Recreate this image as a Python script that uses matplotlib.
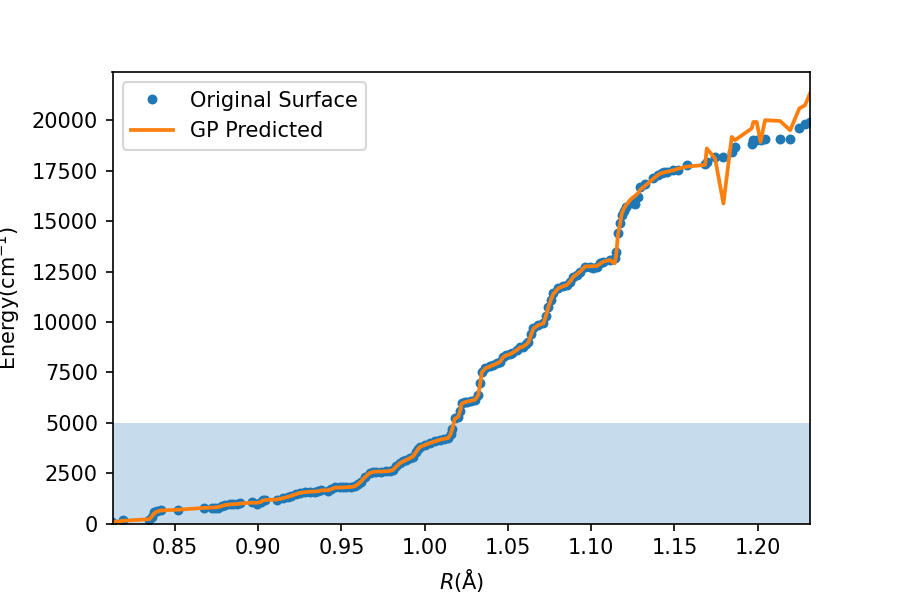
import numpy as np
import matplotlib
matplotlib.use('Agg')
import matplotlib.pyplot as plt

# bond length R (Angstrom)
R = [0.8125, 0.8190, 0.8346, 0.8360, 0.8375, 0.8395, 0.8415, 0.8520, 0.8677, 0.8720,
     0.8740, 0.8760, 0.8780, 0.8800, 0.8830, 0.8850, 0.8870, 0.8890, 0.8960, 0.8990,
     0.9015, 0.9027, 0.9040, 0.9110, 0.9150, 0.9180, 0.9200, 0.9230, 0.9250, 0.9280,
     0.9310, 0.9340, 0.9360, 0.9380, 0.9420, 0.9440, 0.9460, 0.9490, 0.9510, 0.9530,
     0.9560, 0.9580, 0.9600, 0.9615, 0.9640, 0.9670, 0.9690, 0.9710, 0.9740, 0.9770,
     0.9790, 0.9810, 0.9830, 0.9850, 0.9870, 0.9890, 0.9910, 0.9930, 0.9945, 0.9960,
     0.9972, 1.0000, 1.0030, 1.0060, 1.0090, 1.0115, 1.0140, 1.0155, 1.0165, 1.0180,
     1.0202, 1.0212, 1.0222, 1.0240, 1.0253, 1.0280, 1.0302, 1.0322, 1.0333, 1.0343,
     1.0363, 1.0390, 1.0412, 1.0435, 1.0453, 1.0472, 1.0490, 1.0510, 1.0523, 1.0553,
     1.0573, 1.0592, 1.0610, 1.0623, 1.0640, 1.0653, 1.0683, 1.0713, 1.0728, 1.0743,
     1.0758, 1.0773, 1.0803, 1.0830, 1.0853, 1.0873, 1.0893, 1.0913, 1.0933, 1.0963,
     1.0993, 1.1013, 1.1033, 1.1053, 1.1073, 1.1113, 1.1140, 1.1150, 1.1160, 1.1173,
     1.1183, 1.1195, 1.1210, 1.1240, 1.1264, 1.1283, 1.1293, 1.1324, 1.1373, 1.1403,
     1.1423, 1.1440, 1.1454, 1.1494, 1.1524, 1.1574, 1.1684, 1.1694, 1.1744, 1.1794,
     1.1844, 1.1864, 1.1964, 1.1974, 1.1994, 1.2017, 1.2044, 1.2134, 1.2195, 1.2250,
     1.2284, 1.2314]

# original surface energies (cm^-1)
energy = [80, 200, 180, 350, 560, 640, 680, 680, 780, 760,
          760, 800, 900, 950, 990, 980, 990, 1010, 1060, 990,
          1060, 1190, 1200, 1190, 1260, 1350, 1400, 1500, 1550, 1580,
          1600, 1600, 1610, 1680, 1630, 1720, 1800, 1800, 1800, 1810,
          1830, 1850, 1980, 2090, 2300, 2540, 2580, 2590, 2590, 2600,
          2620, 2670, 2850, 3000, 3100, 3170, 3250, 3330, 3550, 3720,
          3830, 3900, 4000, 4080, 4160, 4220, 4240, 4450, 4700, 5230,
          5310, 5600, 5970, 6030, 6050, 6100, 6140, 6390, 7000, 7540,
          7710, 7800, 7870, 7950, 8030, 8280, 8350, 8400, 8450, 8610,
          8750, 8780, 8900, 9000, 9400, 9690, 9850, 9930, 10300, 10760,
          11100, 11420, 11670, 11780, 11830, 12000, 12240, 12350, 12490, 12740,
          12700, 12680, 12740, 12900, 12990, 13070, 13150, 13480, 14390, 14880,
          15300, 15500, 15710, 15900, 15870, 16200, 16700, 16850, 17110, 17280,
          17360, 17420, 17440, 17520, 17520, 17770, 17850, 17950, 18180, 18180,
          18430, 18680, 18840, 19000, 19010, 19010, 19090, 19090, 19090, 19590,
          19830, 19910]

# GP prediction at the same R
gp_pred = [80, 150, 230, 350, 520, 620, 660, 700, 790, 800,
           810, 830, 880, 930, 960, 970, 980, 1000, 1050, 1040,
           1080, 1150, 1180, 1200, 1270, 1340, 1390, 1480, 1530, 1570,
           1590, 1600, 1610, 1660, 1660, 1720, 1790, 1800, 1800, 1810,
           1830, 1860, 1970, 2080, 2300, 2520, 2570, 2590, 2590, 2600,
           2620, 2680, 2840, 3000, 3090, 3170, 3250, 3340, 3520, 3700,
           3810, 3900, 4000, 4080, 4160, 4210, 4250, 4430, 4680, 5200,
           5310, 5580, 5950, 6020, 6050, 6100, 6150, 6380, 6950, 7500,
           7700, 7790, 7870, 7950, 8030, 8270, 8350, 8400, 8450, 8610,
           8740, 8780, 8890, 9000, 9380, 9680, 9850, 9930, 10300, 10740,
           11100, 11400, 11670, 11770, 11830, 12000, 12240, 12360, 12490, 12750,
           12760, 12760, 12770, 12880, 12990, 13070, 12900, 13300, 14300, 14850,
           15350, 15600, 15800, 16100, 16250, 16400, 16550, 16750, 17100, 17300,
           17380, 17420, 17440, 17520, 17600, 17700, 17780, 18600, 18100, 15870,
           19170, 19010, 19590, 19910, 19910, 18920, 20000, 19960, 19500, 20580,
           20740, 21320]

fig = plt.figure(figsize=(6, 4), dpi=150)
ax = fig.add_axes([0.125, 0.127, 0.775, 0.753])

ax.plot(R, energy, '.', ms=7.5, label='Original Surface')
ax.plot(R, gp_pred, lw=1.8, label='GP Predicted')
ax.axhspan(0, 5000, alpha=0.25)

ax.set_xlim(min(R), max(R))
ax.set_ylim(bottom=0)
ax.set_xlabel(r'$R$(Å)')
ax.set_ylabel(r'Energy(cm$^{-1}$)')
ax.legend(loc='upper left')

fig.savefig('out.png', dpi=150)
